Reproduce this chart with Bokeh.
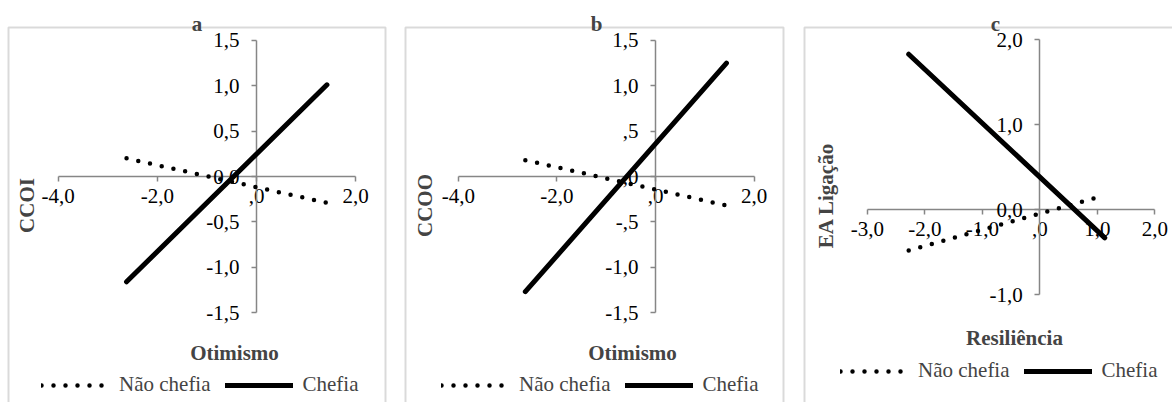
import math
from bokeh.plotting import figure
from bokeh.layouts import row
from bokeh.models import FixedTicker, Label, Legend, LegendItem, BoxAnnotation, Range1d
from bokeh.embed import file_html
from bokeh.resources import INLINE

# ---------------- data ----------------
series_names = ["Não chefia", "Chefia"]
panel_titles = ["a", "b", "c"]
x_titles = ["Otimismo", "Otimismo", "Resiliência"]
y_titles = ["CCOI", "CCOO", "EA Ligação"]

a_x = [-2.62, 1.42]
a_nao = [0.20, -0.29]
a_chefia = [-1.16, 1.01]

b_x = [-2.64, 1.44]
b_nao = [0.18, -0.32]
b_chefia = [-1.27, 1.25]

c_x = [-2.28, 1.13]
c_nao = [-0.48, 0.17]
c_chefia = [1.83, -0.33]

ab_xticks = [-4.0, -2.0, 0.0, 2.0]
ab_xlabels = ["-4,0", "-2,0", ",0", "2,0"]
ab_yticks = [-1.5, -1.0, -0.5, 0.0, 0.5, 1.0, 1.5]
a_ylabels = ["-1,5", "-1,0", "-0,5", "0,0", "0,5", "1,0", "1,5"]
b_ylabels = ["-1,5", "-1,0", "-,5", ",0", ",5", "1,0", "1,5"]
c_xticks = [-3.0, -2.0, -1.0, 0.0, 1.0, 2.0]
c_xlabels = ["-3,0", "-2,0", "-1,0", ",0", "1,0", "2,0"]
c_yticks = [-1.0, 0.0, 1.0, 2.0]
c_ylabels = ["-1,0", "0,0", "1,0", "2,0"]

# ---------------- styling / layout (pixel geometry) ----------------
FONT = "Liberation Serif"
FS = "21px"
GRAY = "#868686"
H = 402
BOX_TOP = 27


def make_panel(title, xlab, ylab, xs, nao, chefia, xticks, xlabels, yticks, ylabels,
               canvas_left, canvas_w, x0, xu, y0, yu, box, title_pos, xlab_pos,
               ylab_pos, legend_loc):
    dx = lambda px: (px - x0) / xu
    dy = lambda py: (y0 - py) / yu
    xr = Range1d(dx(canvas_left), dx(canvas_left + canvas_w))
    yr = Range1d(dy(H), dy(0))
    p = figure(width=canvas_w, height=H, x_range=xr, y_range=yr,
               output_backend="svg", toolbar_location=None,
               min_border_left=0, min_border_right=0,
               min_border_top=0, min_border_bottom=0)
    p.outline_line_color = None
    p.xgrid.visible = False
    p.ygrid.visible = False
    p.background_fill_color = "white"
    p.border_fill_color = "white"

    for ax, ticks, labels in ((p.xaxis[0], xticks, xlabels),
                              (p.yaxis[0], yticks, ylabels)):
        ax.fixed_location = 0
        ax.bounds = (min(ticks), max(ticks))
        ax.ticker = FixedTicker(ticks=ticks)
        ax.major_label_overrides = {float(t): l for t, l in zip(ticks, labels)}
        ax.axis_line_color = GRAY
        ax.axis_line_width = 1.5
        ax.major_tick_line_color = GRAY
        ax.major_tick_line_width = 1.5
        ax.major_tick_out = 5
        ax.major_tick_in = 0
        ax.minor_tick_line_color = None
        ax.major_label_text_font = FONT
        ax.major_label_text_font_size = FS
        ax.major_label_text_color = "black"
        ax.level = "underlay"
    p.xaxis[0].major_label_standoff = 7
    p.yaxis[0].major_label_standoff = 12

    r1 = p.line(xs, nao, line_color="black", line_width=4.5, line_dash="0 12",
                line_cap="round")
    r2 = p.line(xs, chefia, line_color="black", line_width=5, line_cap="round")

    # chart area box
    p.add_layout(BoxAnnotation(left=dx(box[0]), right=dx(box[1]), top=dy(BOX_TOP),
                               bottom=dy(H + 20), fill_color=None, fill_alpha=0,
                               line_color=GRAY, line_width=2, level="underlay"))

    p.add_layout(Label(x=dx(title_pos[0]), y=dy(title_pos[1]), text=title,
                       text_font=FONT, text_font_size=FS, text_font_style="bold",
                       text_align="center", text_baseline="alphabetic"))
    p.add_layout(Label(x=dx(xlab_pos[0]), y=dy(xlab_pos[1]), text=xlab,
                       text_font=FONT, text_font_size=FS, text_font_style="bold",
                       text_align="center", text_baseline="alphabetic"))
    p.add_layout(Label(x=dx(ylab_pos[0]), y=dy(ylab_pos[1]), text=ylab, angle=math.pi / 2,
                       text_font=FONT, text_font_size=FS, text_font_style="bold",
                       text_align="center", text_baseline="middle"))

    legend = Legend(items=[LegendItem(label=series_names[0], renderers=[r1]),
                           LegendItem(label=series_names[1], renderers=[r2])],
                    orientation="horizontal", location=legend_loc,
                    glyph_width=68, glyph_height=20, label_height=20,
                    label_standoff=10, spacing=14, padding=0, margin=0,
                    border_line_color=None, background_fill_alpha=0,
                    label_text_font=FONT, label_text_font_size=FS)
    p.add_layout(legend)
    return p


pa = make_panel(panel_titles[0], x_titles[0], y_titles[0], a_x, a_nao, a_chefia,
                ab_xticks, ab_xlabels, ab_yticks, a_ylabels,
                0, 396, 256.0, 49.6, 176.0, 90.8, (8, 385),
                (196.5, 23), (234, 352), (26, 205), (41, 5))
pb = make_panel(panel_titles[1], x_titles[1], y_titles[1], b_x, b_nao, b_chefia,
                ab_xticks, ab_xlabels, ab_yticks, b_ylabels,
                396, 398, 655.0, 49.3, 176.0, 90.7, (405, 783),
                (596, 23), (632, 352), (424, 205), (45, 5))
pc = make_panel(panel_titles[2], x_titles[2], y_titles[2], c_x, c_nao, c_chefia,
                c_xticks, c_xlabels, c_yticks, c_ylabels,
                794, 378, 1039.3, 57.5, 209.3, 85.0, (804, 1190),
                (995, 23), (1014, 337), (825, 195), (46, 19))

layout = row(pa, pb, pc)
open("out.html", "w").write(file_html(layout, INLINE))
